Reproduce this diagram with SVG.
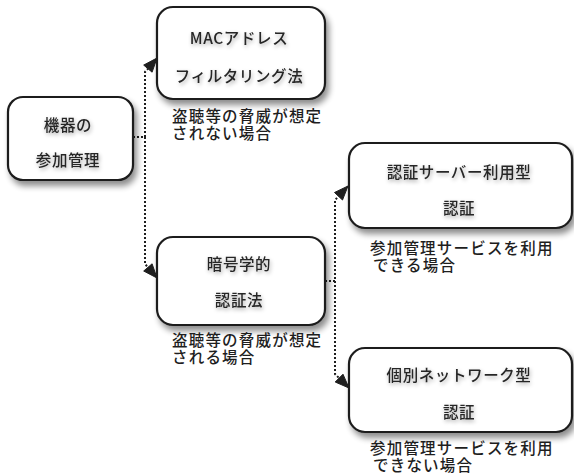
<svg xmlns="http://www.w3.org/2000/svg" width="574" height="475" viewBox="0 0 574 475">
<style>
.box{fill:#fff;stroke:#1e1e1e;stroke-width:2.2;filter:url(#sh)}
.lbl{font-family:"Noto Sans CJK JP","Noto Sans",sans-serif;font-size:15.5px;font-weight:500;letter-spacing:0.6px;fill:#262626;text-anchor:middle;filter:url(#tsh)}
.ann{font-family:"Liberation Sans","Noto Sans CJK JP",sans-serif;font-size:15.5px;font-weight:500;letter-spacing:1.2px;fill:#1e1e1e}
.con{fill:none;stroke:#1e1e1e;stroke-width:2;stroke-dasharray:2 2}
.ah{fill:#1e1e1e;stroke:#1e1e1e;stroke-width:1;stroke-linejoin:miter}
</style>
<defs>
<filter id="sh" x="-20%" y="-20%" width="150%" height="160%">
<feGaussianBlur in="SourceAlpha" stdDeviation="3"/>
<feOffset dx="3" dy="5" result="b"/>
<feComponentTransfer><feFuncA type="linear" slope="0.45"/></feComponentTransfer>
<feMerge><feMergeNode/><feMergeNode in="SourceGraphic"/></feMerge>
</filter>
<filter id="tsh" x="-20%" y="-50%" width="140%" height="220%">
<feGaussianBlur in="SourceAlpha" stdDeviation="2"/>
<feOffset dx="1" dy="2"/>
<feComponentTransfer><feFuncA type="linear" slope="0.35"/></feComponentTransfer>
<feMerge><feMergeNode/><feMergeNode in="SourceGraphic"/></feMerge>
</filter>
</defs>
<g id="connectors">
<path class="con" d="M133,137 H145 V72 L148,68.6"/>
<polygon class="ah" points="157,58 152.1,72.2 143.7,65.1"/>
<path class="con" d="M145,137 V264 L148,267.4"/>
<polygon class="ah" points="157,278 152.1,263.8 143.7,271"/>
<path class="con" d="M325,281 H335 V200 L338.5,196.3"/>
<polygon class="ah" points="348,186 342.5,200 334.5,192.5"/>
<path class="con" d="M335,281 V374 L339.1,378.1"/>
<polygon class="ah" points="349,388 343,374.2 335.2,382"/>
</g>
<g id="n1">
<rect class="box" x="8" y="97" width="125" height="83" rx="15"/>
<text class="lbl" x="68" y="131">機器の</text>
<text class="lbl" x="68" y="166">参加管理</text>
</g>
<g id="n2">
<rect class="box" x="157" y="7" width="168" height="92" rx="16"/>
<text class="lbl" x="239" y="44">MACアドレス</text>
<text class="lbl" x="239" y="82">フィルタリング法</text>
<text class="ann" x="172" y="121.5">盗聴等の脅威が想定<tspan x="172" dy="17.5">されない場合</tspan></text>
</g>
<g id="n3">
<rect class="box" x="157" y="237" width="168" height="88" rx="16"/>
<text class="lbl" x="239" y="270">暗号学的</text>
<text class="lbl" x="239" y="306">認証法</text>
<text class="ann" x="172" y="345.5">盗聴等の脅威が想定<tspan x="172" dy="17.5">される場合</tspan></text>
</g>
<g id="n4">
<rect class="box" x="349" y="143" width="223" height="85" rx="16"/>
<text class="lbl" x="459" y="178">認証サーバー利用型</text>
<text class="lbl" x="459" y="214">認証</text>
<text class="ann" x="370" y="253.5">参加管理サービスを利用<tspan x="373" dy="17.5">できる場合</tspan></text>
</g>
<g id="n5">
<rect class="box" x="349" y="348" width="223" height="84" rx="16"/>
<text class="lbl" x="459" y="381">個別ネットワーク型</text>
<text class="lbl" x="459" y="418">認証</text>
<text class="ann" x="370" y="454">参加管理サービスを利用<tspan x="373" dy="17">できない場合</tspan></text>
</g>
</svg>
